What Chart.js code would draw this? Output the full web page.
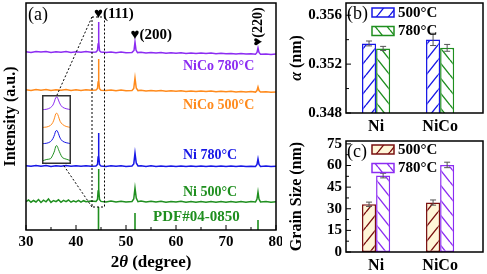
<!DOCTYPE html>
<html>
<head>
<meta charset="utf-8">
<script src="https://cdn.jsdelivr.net/npm/chart.js@4.4.1/dist/chart.umd.min.js"></script>
<style>
  body { margin: 0; background: #fff; }
  #fig { position: relative; width: 487px; height: 274px; overflow: hidden; background: #fff; }
  #fig canvas { position: absolute; }
</style>
</head>
<body>
<div id="fig">
  <canvas id="xrd" width="282" height="274" style="left:0;top:0"></canvas>
  <canvas id="inset" width="29" height="69" style="left:42px;top:95px"></canvas>
  <canvas id="latt" width="205" height="137" style="left:282px;top:0"></canvas>
  <canvas id="grain" width="205" height="137" style="left:282px;top:137px"></canvas>
</div>
<script>
// ---------- (a) XRD patterns, stacked intensity in a.u. ----------
const xTicks = [30, 40, 50, 60, 70, 80];
const peakPos = [44.5, 51.8, 76.4];
const peakNames = ['(111)', '(200)', '(220)'];
const pdfIntensity = [23, 17, 10];
const samples = ['Ni 500°C', 'Ni 780°C', 'NiCo 500°C', 'NiCo 780°C'];
const sampleColors = ['#1f8f1f', '#1717e6', '#ff8a1c', '#8c2cf2'];

const ni500 = [[30,28.5],[30.5,30],[31,27.8],[31.5,29.5],[32,28],[32.5,30.5],[33,27.5],[33.5,29.8],[34,28.2],[34.5,31],[35,27.6],[35.5,29.5],[36,28.3],[36.5,30.2],[37,27.7],[37.5,29.6],[38,28.4],[38.5,30],[39,27.8],[39.5,29.2],[40,28.1],[40.5,29.7],[41,27.9],[41.5,29.3],[42,28.2],[43,28.9],[44.0,28.5],[44.3,30.5],[44.42,39],[44.5,61],[44.58,41],[44.7,30.5],[45.0,28.6],[46,28],[47,29],[48,28.1],[49,28.8],[50,27.9],[51.2,28.5],[51.55,31],[51.8,42],[52.05,32],[52.4,28.3],[53,28.9],[54,28],[55,28.8],[56,27.9],[57,28.7],[58,27.8],[59,28.6],[60,27.9],[61,28.7],[62,27.8],[63,28.6],[64,27.8],[65,28.6],[66,27.8],[67,28.5],[68,27.8],[69,28.5],[70,27.7],[71,28.5],[72,27.8],[73,28.4],[74,27.8],[75,28.4],[75.9,28],[76.2,31],[76.4,38],[76.6,31],[76.9,28.1],[78,28.4],[79,27.8],[80,28.3]];
const ni780 = [[30,64.3],[31,63.7],[32,64.5],[33,63.8],[34,64.4],[35,63.6],[36,64.3],[37,63.8],[38,64.4],[39,63.7],[40,64.2],[41,63.7],[42,64.3],[43,63.8],[44.0,64.1],[44.3,65.5],[44.42,73],[44.5,97],[44.58,75],[44.7,65.5],[45.0,64],[46,63.6],[47,64.3],[48,63.7],[49,64.2],[50,63.6],[51.2,64],[51.55,66],[51.8,77],[52.05,67],[52.4,64],[53,64.2],[54,63.6],[55,64.2],[56,63.6],[57,64.1],[58,63.5],[59,64.1],[60,63.5],[61,64],[62,63.5],[63,64],[64,63.4],[65,64],[66,63.5],[67,64],[68,63.4],[69,63.9],[70,63.4],[71,63.9],[72,63.4],[73,63.9],[74,63.4],[75,63.8],[75.9,63.5],[76.2,65.5],[76.4,71],[76.6,65.5],[76.9,63.6],[78,63.9],[79,63.5],[80,63.8]];
const nico500 = [[30,140.2],[31,139.6],[32,140.5],[33,139.8],[34,140.4],[35,139.5],[36,140.3],[37,139.7],[38,140.4],[39,139.6],[40,140.2],[41,139.6],[42,140.3],[43,139.7],[44.0,140],[44.3,141.5],[44.42,148],[44.5,171],[44.58,150],[44.7,141.3],[45.0,139.8],[46,139.4],[47,140.1],[48,139.3],[49,139.9],[50,139.2],[51.2,139.6],[51.55,141.5],[51.8,152],[52.05,142],[52.4,139.4],[53,139.7],[54,139],[55,139.6],[56,138.9],[57,139.4],[58,138.8],[59,139.3],[60,138.7],[61,139.2],[62,138.6],[63,139.1],[64,138.5],[65,139],[66,138.4],[67,138.9],[68,138.3],[69,138.8],[70,138.2],[71,138.7],[72,138.1],[73,138.6],[74,138],[75,138.4],[75.9,137.9],[76.2,139.5],[76.4,143],[76.6,139.5],[76.9,137.9],[78,138.2],[79,137.7],[80,138]];
const nico780 = [[30,178.2],[31,177.6],[32,178.6],[33,177.9],[34,178.4],[35,177.5],[36,178.3],[37,177.8],[38,178.5],[39,177.6],[40,178.2],[41,177.7],[42,178.4],[43,177.8],[44.0,178.1],[44.3,179.5],[44.42,186],[44.5,208],[44.58,189],[44.7,179.3],[45.0,178],[46,177.4],[47,178.1],[48,177.3],[49,178],[50,177.2],[51.2,177.6],[51.6,179.5],[51.8,188],[52.0,180],[52.3,177.4],[53,177.8],[54,177],[55,177.6],[56,176.9],[57,177.5],[58,176.8],[59,177.3],[60,176.7],[61,177.2],[62,176.6],[63,177.1],[64,176.5],[65,177],[66,176.4],[67,176.9],[68,176.3],[69,176.8],[70,176.2],[71,176.6],[72,176],[73,176.5],[74,175.9],[75,176.3],[75.9,175.8],[76.2,177.5],[76.4,182],[76.6,177.5],[76.9,175.8],[78,176.1],[79,175.6],[80,176]];

// inset: close-up of the (111) peak
const insetTheta = [43.9, 44.1, 44.25, 44.35, 44.42, 44.47, 44.52, 44.58, 44.65, 44.75, 44.9, 45.1];
const insetNi500 = [3, 4.5, 5.2, 9, 13, 17.5, 18, 14.5, 10.5, 6.2, 4.8, 3.2];
const insetNi780 = [20, 20.5, 22, 25, 29, 32.5, 33, 30, 25.5, 22.5, 21, 20];
const insetNiCo500 = [36, 36.5, 38, 41, 45.5, 49.5, 50, 47, 42, 39, 37, 36];
const insetNiCo780 = [53.5, 54, 55.5, 58, 62, 65.5, 66, 63, 59, 56, 54.5, 53.5];

// ---------- (b) lattice parameter, (c) grain size ----------
const groups = ['Ni', 'NiCo'];
const temps = ['500°C', '780°C'];
const latt500 = [0.35369, 0.35402];
const latt780 = [0.35328, 0.35333];
const lattErr500 = [0.0002, 0.0005];
const lattErr780 = [0.00017, 0.00028];
const lattTicks = [0.348, 0.352, 0.356];
const grain500 = [33.1, 34.3];
const grain780 = [53.0, 60.4];
const grainErr500 = [1.5, 1.8];
const grainErr780 = [1.6, 1.9];
const grainTicks = [0, 15, 30, 45, 60, 75];

const SERIF = "'Liberation Serif', 'Times New Roman', serif";
Chart.defaults.font.family = SERIF;
Chart.defaults.color = '#000';

function fnt(size, bold, italic) {
  return (italic ? 'italic ' : '') + (bold ? 'bold ' : '') + size + 'px ' + SERIF;
}

// text made of plain/italic pieces, centred on (cx, cy)
function mixedText(ctx, parts, cx, cy, size) {
  let w = 0;
  parts.forEach(p => { ctx.font = fnt(size, true, p[1]); w += ctx.measureText(p[0]).width; });
  let xx = cx - w / 2;
  ctx.textAlign = 'left';
  ctx.textBaseline = 'middle';
  parts.forEach(p => {
    ctx.font = fnt(size, true, p[1]);
    ctx.fillText(p[0], xx, cy);
    xx += ctx.measureText(p[0]).width;
  });
}

function toXY(arr) { return arr.map(p => ({ x: p[0], y: p[1] })); }

// keep the plot box where I put it, no room reserved for edge labels
function noEdgePad(s) {
  s.paddingTop = 0; s.paddingBottom = 0; s.paddingLeft = 0; s.paddingRight = 0;
}

const pdfData = [];
peakPos.forEach((p, i) => {
  pdfData.push({ x: p, y: 0 }, { x: p, y: pdfIntensity[i] }, { x: p, y: null });
});

const traces = [ni500, ni780, nico500, nico780];
const xrdSets = traces.map((t, i) => ({
  label: samples[i], data: toXY(t), borderColor: sampleColors[i], borderWidth: 1.5
}));
xrdSets.push({ label: 'PDF#04-0850', data: pdfData, borderColor: sampleColors[0], borderWidth: 1.6, spanGaps: false });

const xrdDecor = {
  id: 'xrdDecor',
  afterDatasetsDraw(chart) {
    const { ctx, chartArea: a, scales: { x, y } } = chart;
    ctx.save();
    ctx.strokeStyle = '#000';
    ctx.lineWidth = 1.5;
    ctx.strokeRect(a.left, a.top, a.right - a.left, a.bottom - a.top);

    // inward ticks
    ctx.lineWidth = 1;
    ctx.beginPath();
    for (let v = xTicks[0]; v <= xTicks[xTicks.length - 1]; v += 5) {
      const px = x.getPixelForValue(v);
      const len = xTicks.includes(v) ? 5 : 3;
      ctx.moveTo(px, a.bottom);
      ctx.lineTo(px, a.bottom - len);
    }
    ctx.stroke();

    // dashed zoom box around (111) and lines to inset
    ctx.setLineDash([2, 2]);
    ctx.lineWidth = 1;
    const bx0 = x.getPixelForValue(43.2), bx1 = x.getPixelForValue(45.7);
    const by0 = y.getPixelForValue(213), by1 = y.getPixelForValue(23);
    ctx.strokeRect(bx0, by0, bx1 - bx0, by1 - by0);
    ctx.beginPath();
    ctx.moveTo(bx0, by0); ctx.lineTo(57, 95);
    ctx.moveTo(bx0, by1); ctx.lineTo(62, 163);
    ctx.stroke();
    ctx.setLineDash([]);

    // hkl labels
    ctx.fillStyle = '#000';
    ctx.textBaseline = 'middle';
    ctx.font = fnt(15, true);
    const hw = ctx.measureText('♥').width;
    ctx.textAlign = 'left';
    ctx.fillText('♥' + peakNames[0], x.getPixelForValue(peakPos[0]) - hw / 2, 14);
    ctx.fillText('♥' + peakNames[1], x.getPixelForValue(peakPos[1]) - hw / 2, 35);
    ctx.save();
    ctx.translate(x.getPixelForValue(peakPos[2]), 46);
    ctx.rotate(-Math.PI / 2);
    ctx.font = fnt(14, true);
    ctx.fillText('♥' + peakNames[2], 0, 0);
    ctx.restore();

    // sample labels
    const labY = [192, 155, 105, 66];
    ctx.font = fnt(14, true);
    samples.forEach((s, i) => {
      ctx.fillStyle = sampleColors[i];
      ctx.fillText(s, 183, labY[i]);
    });
    ctx.font = fnt(15, true);
    ctx.fillStyle = sampleColors[0];
    ctx.fillText('PDF#04-0850', 153, 217);

    // panel letter
    ctx.fillStyle = '#000';
    ctx.font = fnt(18, false);
    ctx.fillText('(a)', 28, 15);

    // x title with italic theta
    mixedText(ctx, [['2', false], ['θ', true], [' (degree)', false]], (a.left + a.right) / 2, 263, 17);
    ctx.restore();
  }
};

new Chart(document.getElementById('xrd'), {
  type: 'scatter',
  data: { datasets: xrdSets },
  options: {
    responsive: false,
    animation: false,
    showLine: true,
    elements: { point: { radius: 0 }, line: { tension: 0 } },
    layout: { padding: { top: 3, right: 6 } },
    scales: {
      x: {
        type: 'linear', min: 30, max: 80,
        grid: { display: false, drawTicks: false }, border: { display: false },
        afterBuildTicks: s => { s.ticks = xTicks.map(v => ({ value: v })); },
        ticks: { font: { size: 15, weight: 'bold' }, padding: 3, maxRotation: 0, autoSkip: false },
        afterFit: s => { s.height = 44; noEdgePad(s); }
      },
      y: {
        min: 0, max: 227,
        grid: { display: false, drawTicks: false }, border: { display: false },
        ticks: { display: false },
        title: { display: true, text: 'Intensity (a.u.)', font: { size: 16, weight: 'bold' }, padding: { top: 1 } },
        afterFit: s => { s.width = 26; noEdgePad(s); }
      }
    },
    plugins: { legend: { display: false }, tooltip: { enabled: false } }
  },
  plugins: [xrdDecor]
});

// inset
const insetSeries = [insetNi500, insetNi780, insetNiCo500, insetNiCo780];
new Chart(document.getElementById('inset'), {
  type: 'scatter',
  data: {
    datasets: insetSeries.map((s, i) => ({
      label: samples[i],
      data: s.map((v, k) => ({ x: insetTheta[k], y: v })),
      borderColor: sampleColors[i], borderWidth: 1
    }))
  },
  options: {
    responsive: false,
    animation: false,
    showLine: true,
    elements: { point: { radius: 0 }, line: { tension: 0.3 } },
    layout: { padding: 0 },
    scales: {
      x: { display: false, min: insetTheta[0], max: insetTheta[insetTheta.length - 1] },
      y: { display: false, min: 0, max: 68 }
    },
    plugins: { legend: { display: false }, tooltip: { enabled: false } }
  },
  plugins: [{
    id: 'insetFrame',
    beforeDraw(chart) {
      const c = chart.ctx;
      c.save(); c.fillStyle = '#fff'; c.fillRect(0, 0, chart.width, chart.height); c.restore();
    },
    afterDraw(chart) {
      const c = chart.ctx;
      c.save();
      c.strokeStyle = '#333';
      c.lineWidth = 1.5;
      c.strokeRect(0.75, 0.75, chart.width - 1.5, chart.height - 1.5);
      c.restore();
    }
  }]
});

// ---------- bar panels ----------
function hatch(color, bg, dir) {
  const c = document.createElement('canvas');
  c.width = 12; c.height = 15;
  const g = c.getContext('2d');
  g.fillStyle = bg;
  g.fillRect(0, 0, 12, 15);
  g.strokeStyle = color;
  g.lineWidth = 1.4;
  g.beginPath();
  for (const k of [-1, 0, 1]) {
    if (dir === '/') { g.moveTo(k * 12, 15); g.lineTo(k * 12 + 12, 0); }
    else { g.moveTo(k * 12, 0); g.lineTo(k * 12 + 12, 15); }
  }
  g.stroke();
  return g.createPattern(c, 'repeat');
}

const barDecor = {
  id: 'barDecor',
  afterDatasetsDraw(chart, args, o) {
    const { ctx, chartArea: a, scales: { y } } = chart;
    ctx.save();
    // error bars
    ctx.strokeStyle = '#555';
    ctx.lineWidth = 1;
    chart.data.datasets.forEach((ds, i) => {
      chart.getDatasetMeta(i).data.forEach((el, j) => {
        const v = ds.data[j].y, e = ds.err[j];
        const t = y.getPixelForValue(v + e), b = y.getPixelForValue(v - e);
        ctx.beginPath();
        ctx.moveTo(el.x, t); ctx.lineTo(el.x, b);
        ctx.moveTo(el.x - 3, t); ctx.lineTo(el.x + 3, t);
        ctx.moveTo(el.x - 3, b); ctx.lineTo(el.x + 3, b);
        ctx.stroke();
      });
    });
    // frame
    ctx.strokeStyle = '#000';
    ctx.lineWidth = 1.5;
    ctx.strokeRect(a.left, a.top, a.right - a.left, a.bottom - a.top);
    // inward ticks
    ctx.lineWidth = 1;
    ctx.beginPath();
    o.ticks.forEach((v, i) => {
      const py = y.getPixelForValue(v);
      ctx.moveTo(a.left, py); ctx.lineTo(a.left + 5, py);
      if (i > 0) {
        const pm = y.getPixelForValue((v + o.ticks[i - 1]) / 2);
        ctx.moveTo(a.left, pm); ctx.lineTo(a.left + 3, pm);
      }
    });
    ctx.stroke();
    // legend
    chart.data.datasets.forEach((ds, i) => {
      const ry = 8 + i * 18.5;
      ctx.fillStyle = ds.backgroundColor;
      ctx.fillRect(90, ry, 22, 9);
      ctx.strokeStyle = ds.borderColor;
      ctx.lineWidth = 1.5;
      ctx.strokeRect(90, ry, 22, 9);
      ctx.fillStyle = '#000';
      ctx.font = fnt(15, true);
      ctx.textAlign = 'left';
      ctx.textBaseline = 'middle';
      ctx.fillText(ds.label, 116, ry + 5);
    });
    // panel letter
    ctx.font = fnt(18, false);
    ctx.fillText(o.letter, a.left + 1, a.top + 11);
    // y title
    ctx.save();
    ctx.translate(15, (a.top + a.bottom) / 2);
    ctx.rotate(-Math.PI / 2);
    mixedText(ctx, o.title, 0, 0, 16);
    ctx.restore();
    ctx.restore();
  }
};

function barPanel(id, v500, v780, e500, e780, ticks, yMax, dec, colors, fills, letter, title, padTop, xh) {
  const mk = (vals) => vals.map((v, i) => ({ x: i + 1, y: v }));
  new Chart(document.getElementById(id), {
    type: 'bar',
    data: {
      datasets: [
        { label: temps[0], data: mk(v500), err: e500, backgroundColor: fills[0], borderColor: colors[0],
          borderWidth: 1.5, borderSkipped: false, categoryPercentage: 0.44, barPercentage: 1 },
        { label: temps[1], data: mk(v780), err: e780, backgroundColor: fills[1], borderColor: colors[1],
          borderWidth: 1.5, borderSkipped: false, categoryPercentage: 0.44, barPercentage: 1 }
      ]
    },
    options: {
      responsive: false,
      animation: false,
      layout: { padding: { top: padTop, right: 4 } },
      scales: {
        x: {
          type: 'linear', min: 0.53, max: 2.67, offset: false,
          grid: { display: false, drawTicks: false }, border: { display: false },
          afterBuildTicks: s => { s.ticks = groups.map((g, i) => ({ value: i + 1 })); },
          ticks: { callback: v => groups[v - 1], font: { size: 16, weight: 'bold' }, padding: 4, maxRotation: 0, autoSkip: false },
          afterFit: s => { s.height = xh; noEdgePad(s); }
        },
        y: {
          min: ticks[0], max: yMax,
          grid: { display: false, drawTicks: false }, border: { display: false },
          afterBuildTicks: s => { s.ticks = ticks.map(v => ({ value: v })); },
          ticks: { callback: v => v.toFixed(dec), font: { size: 15, weight: 'bold' }, padding: 4, autoSkip: false },
          afterFit: s => { s.width = 64; noEdgePad(s); }
        }
      },
      plugins: {
        legend: { display: false }, tooltip: { enabled: false },
        barDecor: { ticks: ticks, letter: letter, title: title }
      }
    },
    plugins: [barDecor]
  });
}

barPanel('latt', latt500, latt780, lattErr500, lattErr780, lattTicks, 0.357, 3,
  ['#1717e6', '#1f8f1f'],
  [hatch('#1717e6', '#fff', '/'), hatch('#1f8f1f', '#fff', '\\')],
  '(b)', [['α', true], [' (nm)', false]], 3, 24);

barPanel('grain', grain500, grain780, grainErr500, grainErr780, grainTicks, 77, 0,
  ['#7a1010', '#8c2cf2'],
  [hatch('#7a1010', '#fff6d8', '/'), hatch('#8c2cf2', '#fff', '\\')],
  '(c)', [['Grain Size (nm)', false]], 4, 22);
</script>
</body>
</html>
